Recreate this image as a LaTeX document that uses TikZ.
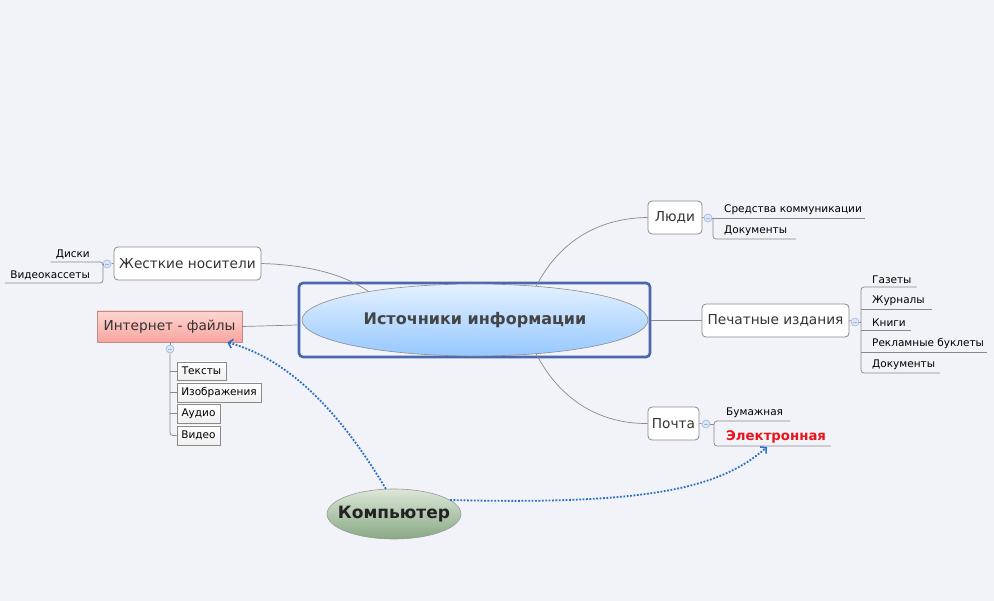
\documentclass[tikz,border=0pt]{standalone}
\usepackage{fontspec}
\setmainfont{DejaVu Sans}
\usetikzlibrary{shapes.geometric,arrows.meta}
\definecolor{bg}{HTML}{F2F3F8}
\definecolor{framec}{HTML}{4A68B0}
\definecolor{linec}{HTML}{8A8A8A}
\definecolor{arrc}{HTML}{2A6FC4}
\definecolor{txt}{HTML}{333333}
\definecolor{colfill}{HTML}{DCE6F7}
\definecolor{coldraw}{HTML}{9FB6E0}
\definecolor{ctrtop}{HTML}{E4F1FF}
\definecolor{ctrbot}{HTML}{96C8FF}
\definecolor{ctrtxt}{HTML}{444444}
\definecolor{inetdraw}{HTML}{C08A88}
\definecolor{inettop}{HTML}{FFD6D2}
\definecolor{inetbot}{HTML}{F7A59F}
\definecolor{redtxt}{HTML}{E8141B}
\definecolor{comptop}{HTML}{DCE7D8}
\definecolor{compbot}{HTML}{88A884}
\definecolor{comptxt}{HTML}{222222}
\tikzset{
  topic/.style={draw=linec, rounded corners=4pt, fill=white, text=txt,
    font=\fontsize{13.7}{16}\selectfont, minimum height=33pt, inner sep=0pt, line width=0.8pt},
  leaf/.style={inner xsep=1pt, inner ysep=3pt, text=black, font=\fontsize{10.5}{12}\selectfont},
  lbox/.style={draw=linec, top color=white, bottom color=black!6, text=black,
    font=\fontsize{10.5}{12}\selectfont, inner sep=0pt, line width=0.8pt},
  conn/.style={draw=linec, line width=0.7pt},
  brk/.style={draw=linec, line width=0.7pt, rounded corners=3pt},
  collapse/.style={circle, draw=coldraw, fill=colfill, minimum size=8pt, inner sep=0pt, line width=0.6pt,
    path picture={\draw[coldraw, line width=0.6pt] ([xshift=-2pt]path picture bounding box.center) -- ([xshift=2pt]path picture bounding box.center);}},
  arr/.style={draw=arrc, line width=1.8pt, dash pattern=on 1.8pt off 1.6pt,
    -{Straight Barb[length=4pt,width=9pt,line width=1.6pt]}},
}
\begin{document}
\begin{tikzpicture}[x=1pt,y=-1pt]
\fill[bg] (0,0) rectangle (994,601);
\useasboundingbox (0,0) rectangle (994,601);

% central
\node[draw=framec, line width=2.6pt, rounded corners=4pt, minimum width=351pt, minimum height=74pt] (frame) at (474.5,320) {};
\node[ellipse, draw=black!45, line width=0.6pt, top color=ctrtop, bottom color=ctrbot, minimum width=346pt, minimum height=72pt, inner sep=0pt, font=\bfseries\fontsize{16}{19}\selectfont, text=ctrtxt] (ctr) at (475,320) {Источники информации};

% main topics
\node[topic, minimum width=54pt] (ludi) at (675,217.5) {Люди};
\node[topic, minimum width=147pt] (pech) at (775.5,320.5) {Печатные издания};
\node[topic, minimum width=51pt] (pochta) at (673.5,423.5) {Почта};
\node[topic, minimum width=147pt] (zhest) at (187.5,263.5) {Жесткие носители};
\node[topic, rounded corners=0pt, draw=inetdraw, top color=inettop, bottom color=inetbot, minimum width=145pt, minimum height=31pt] (inet) at (169.5,326.5) {Интернет - файлы};

% connectors from center
\draw[conn] (ctr.29) .. controls (560,240) and (600,218) .. (ludi.west);
\draw[conn] (frame.east |- pech.west) -- (pech.west);
\draw[conn] (ctr.-29) .. controls (560,400) and (600,424) .. (pochta.west);
\draw[conn] (ctr.165) .. controls (345,275) and (310,265) .. (zhest.east);
\draw[conn] (frame.west |- 0,325) -- (inet.east);

% collapse circles
\node[collapse] (cl) at (708,218) {};
\node[collapse] (cp) at (855,322) {};
\node[collapse] (cpo) at (706,424) {};
\node[collapse] (cz) at (107,264) {};
\node[collapse] (ci) at (170,349) {};
\draw[conn] (ludi.east) -- (cl);
\draw[conn] (pech.east) -- (cp);
\draw[conn] (pochta.east) -- (cpo);
\draw[conn] (zhest.west) -- (cz);
\draw[conn] (inet.south -| ci) -- (ci);

% Люди children
\node[leaf, anchor=south west] (l1) at (713,218) {\kern10pt Средства коммуникации\kern2pt};
\node[leaf, anchor=south west] (l2) at (713,239) {\kern10pt Документы\kern8pt};
\draw[brk] (cl.east) -- (l1.south east);
\draw[brk] (l1.south west) |- (l2.south east);

% Печатные children
\node[leaf, anchor=south west] (p1) at (861,287) {\kern10pt Газеты\kern4pt};
\node[leaf, anchor=south west] (p2) at (861,309) {\kern10pt Журналы\kern6pt};
\node[leaf, anchor=south west] (p3) at (861,330) {\kern10pt Книги\kern4pt};
\node[leaf, anchor=south west] (p4) at (861,352) {\kern10pt Рекламные буклеты\kern2pt};
\node[leaf, anchor=south west] (p5) at (861,373) {\kern10pt Документы\kern4pt};
\draw[brk] (p1.south east) -| (p5.south west) -- (p5.south east);
\draw[conn] (p2.south west) -- (p2.south east);
\draw[conn] (p3.south west) -- (p3.south east);
\draw[conn] (p4.south west) -- (p4.south east);
\draw[conn] (cp.east) -- (cp.east -| p1.south west);

% Почта children
\node[leaf, anchor=south west] (m1) at (714,421) {\kern11pt Бумажная\kern6pt};
\node[leaf, anchor=south west, text=redtxt, font=\bfseries\fontsize{13.3}{15}\selectfont] (m2) at (714,446) {\kern11pt Электронная\kern4pt};
\draw[brk] (m1.south east) -| (m2.south west) -- (m2.south east);
\draw[conn] (cpo.east) -- (cpo.east -| m1.south west);

% Жесткие children (left)
\node[leaf, anchor=south east] (z1) at (103,262) {\kern4pt Диски\kern12pt};
\node[leaf, anchor=south east] (z2) at (103,283) {\kern4pt Видеокассеты\kern12pt};
\draw[brk] (z1.south west) -| (z2.south east) -- (z2.south west);
\draw[conn] (cz.west) -- (cz.west -| z1.south east);

% Интернет children
\node[lbox, minimum width=49pt, minimum height=18pt] (i1) at (201.5,371) {Тексты};
\node[lbox, minimum width=84pt, minimum height=19pt] (i2) at (219,392.5) {Изображения};
\node[lbox, minimum width=43pt, minimum height=19pt] (i3) at (198.5,413.5) {Аудио};
\node[lbox, minimum width=43pt, minimum height=19pt] (i4) at (198.5,435.5) {Видео};
\draw[brk] (ci.south) |- (i4.west);
\draw[conn] (ci.south |- i1.west) -- (i1.west);
\draw[conn] (ci.south |- i2.west) -- (i2.west);
\draw[conn] (ci.south |- i3.west) -- (i3.west);

% Компьютер
\node[ellipse, draw=black!40, line width=0.6pt, top color=comptop, bottom color=compbot, minimum width=134pt, minimum height=50pt, inner sep=0pt] (comp) at (394,514) {};
\node[font=\bfseries\fontsize{17}{20}\selectfont, text=comptxt, inner sep=0pt] (comptext) at (comp.center) {Компьютер};

% dotted arrows
\coordinate (inetTip) at ([xshift=-15pt]inet.south east);
\coordinate (elTip) at ([xshift=53pt,yshift=-1pt]m2.south west);
\draw[arr] (comp.108) .. controls (352,432) and (300,362) .. (inetTip);
\draw[arr] (comp.14) .. controls (650,505) and (720,488) .. (elTip);
\end{tikzpicture}
\end{document}
